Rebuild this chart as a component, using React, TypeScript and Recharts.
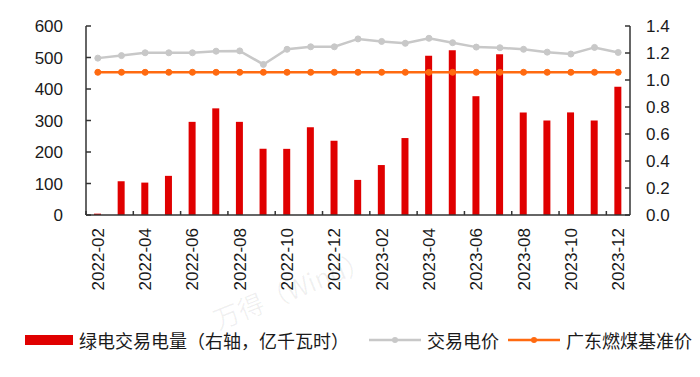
import {
  Bar,
  ComposedChart,
  Legend,
  Line,
  XAxis,
  YAxis,
} from 'recharts'

const months = [
  '2022-02', '2022-03', '2022-04', '2022-05', '2022-06', '2022-07', '2022-08', '2022-09',
  '2022-10', '2022-11', '2022-12', '2023-01', '2023-02', '2023-03', '2023-04', '2023-05',
  '2023-06', '2023-07', '2023-08', '2023-09', '2023-10', '2023-11', '2023-12',
]

// 绿电交易电量 (right axis)
const greenVolume = [
  0.01, 0.25, 0.24, 0.29, 0.69, 0.79, 0.69, 0.49,
  0.49, 0.65, 0.55, 0.26, 0.37, 0.57, 1.18, 1.22,
  0.88, 1.19, 0.76, 0.70, 0.76, 0.70, 0.95,
]

// 交易电价 (left axis)
const tradePrice = [
  498, 506, 515, 515, 515, 520, 521, 478,
  526, 534, 534, 559, 551, 545, 561, 547,
  533, 531, 526, 517, 511, 532, 516,
]

// 广东燃煤基准价 (left axis)
const coalBenchmark = months.map(() => 453)

const leftTicks = [0, 100, 200, 300, 400, 500, 600]
const rightTicks = [0, 0.2, 0.4, 0.6, 0.8, 1.0, 1.2, 1.4]

const COLORS = {
  bar: '#e00000',
  price: '#c8c8c8',
  coal: '#ff6a10',
  axis: '#333333',
  text: '#1a1a1a',
}

const legendItems = [
  { name: '绿电交易电量（右轴，亿千瓦时）', color: COLORS.bar, kind: 'bar' },
  { name: '交易电价', color: COLORS.price, kind: 'line' },
  { name: '广东燃煤基准价', color: COLORS.coal, kind: 'line' },
]

const data = months.map((month, i) => ({
  month,
  volume: greenVolume[i],
  price: tradePrice[i],
  coal: coalBenchmark[i],
}))

const NUM_FONT = '"Liberation Sans", Arial, sans-serif'
const CJK_FONT = '"Noto Sans CJK SC", "Noto Sans", sans-serif'
const X_TICK_MARGIN = 13

function MonthTick(props: any) {
  const { x, y, payload } = props
  const axisY = y - X_TICK_MARGIN
  const edge = x - (payload.offset ?? 0)
  return (
    <g>
      <line x1={edge} x2={edge} y1={axisY} y2={axisY - 4} stroke={COLORS.axis} strokeWidth={1.5} />
      <text
        x={x}
        y={y}
        transform={`rotate(-90 ${x} ${y})`}
        textAnchor="end"
        dy="0.35em"
        fill={COLORS.text}
        fontSize={17}
        fontFamily={NUM_FONT}
      >
        {payload.value}
      </text>
    </g>
  )
}

function ChartLegend() {
  return (
    <div
      style={{
        display: 'flex',
        alignItems: 'center',
        paddingLeft: 17,
        fontFamily: CJK_FONT,
        fontSize: 18,
        color: COLORS.text,
        whiteSpace: 'nowrap',
      }}
    >
      {legendItems.map((item, idx) => (
        <div
          key={item.name}
          style={{ display: 'flex', alignItems: 'center', marginLeft: idx === 0 ? 0 : idx === 1 ? 20 : 9 }}
        >
          {item.kind === 'bar' ? (
            <span style={{ display: 'inline-block', width: 48, height: 10, background: item.color }} />
          ) : (
            <svg width={52} height={10}>
              <line x1={0} x2={52} y1={5} y2={5} stroke={item.color} strokeWidth={2.5} />
              <circle cx={26} cy={5} r={3} fill={item.color} />
            </svg>
          )}
          <span style={{ marginLeft: 6 }}>{item.name}</span>
        </div>
      ))}
    </div>
  )
}

function App() {
  return (
    <div style={{ position: 'relative', width: 684, height: 361 }}>
      <ComposedChart
        width={684}
        height={361}
        data={data}
        margin={{ top: 18, right: 0, left: 0, bottom: 54 }}
        barCategoryGap={0}
      >
        <XAxis
          dataKey="month"
          interval={1}
          height={100}
          tickLine={false}
          tickSize={0}
          tickMargin={X_TICK_MARGIN}
          axisLine={{ stroke: COLORS.axis, strokeWidth: 1.5 }}
          tick={<MonthTick />}
        />
        <YAxis
          yAxisId="left"
          orientation="left"
          width={78}
          domain={[0, 600]}
          ticks={leftTicks}
          tickSize={-5}
          tickMargin={28}
          axisLine={{ stroke: COLORS.axis, strokeWidth: 1.5 }}
          tickLine={{ stroke: COLORS.axis, strokeWidth: 1.5 }}
          tick={{ fill: COLORS.text, fontSize: 17, fontFamily: NUM_FONT }}
        />
        <YAxis
          yAxisId="right"
          orientation="right"
          width={62}
          domain={[0, 1.4]}
          ticks={rightTicks}
          tickFormatter={(v: number) => v.toFixed(1)}
          tickSize={-5}
          tickMargin={21}
          axisLine={{ stroke: COLORS.axis, strokeWidth: 1.5 }}
          tickLine={{ stroke: COLORS.axis, strokeWidth: 1.5 }}
          tick={{ fill: COLORS.text, fontSize: 17, fontFamily: NUM_FONT, textAnchor: 'start' }}
        />
        <Bar
          yAxisId="right"
          dataKey="volume"
          name="绿电交易电量（右轴，亿千瓦时）"
          fill={COLORS.bar}
          barSize={7}
          isAnimationActive={false}
        />
        <Line
          yAxisId="left"
          type="linear"
          dataKey="price"
          name="交易电价"
          stroke={COLORS.price}
          strokeWidth={2.5}
          dot={{ r: 3, fill: COLORS.price, stroke: COLORS.price, strokeWidth: 1 }}
          isAnimationActive={false}
        />
        <Line
          yAxisId="left"
          type="linear"
          dataKey="coal"
          name="广东燃煤基准价"
          stroke={COLORS.coal}
          strokeWidth={2.5}
          dot={{ r: 3, fill: COLORS.coal, stroke: COLORS.coal, strokeWidth: 1 }}
          isAnimationActive={false}
        />
        <Legend
          layout="horizontal"
          verticalAlign="middle"
          align="center"
          wrapperStyle={{ top: 319, left: 0, width: 684 }}
          content={<ChartLegend />}
        />
      </ComposedChart>
      <div
        style={{
          position: 'absolute',
          left: 200,
          top: 262,
          transform: 'rotate(-22deg)',
          fontFamily: CJK_FONT,
          fontSize: 26,
          color: 'rgba(0,0,0,0.06)',
          pointerEvents: 'none',
          whiteSpace: 'nowrap',
        }}
      >
        万得（Wind）
      </div>
    </div>
  )
}

export default App
